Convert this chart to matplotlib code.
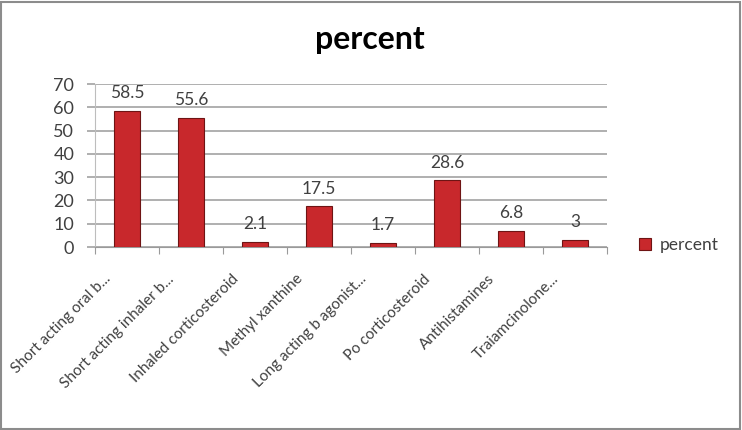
import matplotlib.pyplot as plt
import numpy as np
from matplotlib.patches import Rectangle

plt.rcParams['font.family'] = ['Lato', 'DejaVu Sans']

# data
drugs = ["Short acting oral b...", "Short acting inhaler b...", "Inhaled corticosteroid",
         "Methyl xanthine", "Long acting b agonist...", "Po corticosteroid",
         "Antihistamines", "Traiamcinolone..."]
percent = [58.5, 55.6, 2.1, 17.5, 1.7, 28.6, 6.8, 3]
labels = ["58.5", "55.6", "2.1", "17.5", "1.7", "28.6", "6.8", "3"]

fig = plt.figure(figsize=(7.42, 4.30), dpi=100)
ax = fig.add_axes([95/742, 1-247/430, (607-95)/742, (247-84)/430])

x = np.arange(len(drugs))
ax.bar(x, percent, width=0.4, color='#c8282c', edgecolor='#6e1414',
       linewidth=0.8, label='percent', zorder=3)

for xi, v, t in zip(x, percent, labels):
    ax.annotate(t, xy=(xi, v), xytext=(0, 7), textcoords='offset points',
                ha='center', va='bottom', fontsize=12.5, color='#404040')

ax.set_xlim(-0.5, len(drugs) - 0.5)
ax.set_ylim(0, 70)
ax.set_yticks(range(0, 71, 10))
ax.yaxis.grid(True, color='#9a9a9a', linewidth=1.1, zorder=0)
ax.tick_params(axis='y', length=6, color='#9a9a9a', width=1.1,
               labelsize=13, labelcolor='#404040', pad=9)

# category boundaries get the ticks, labels go under the bars
ax.set_xticks(np.arange(-0.5, len(drugs)))
ax.set_xticklabels([])
ax.tick_params(axis='x', length=5, color='#9a9a9a', direction='out')
for xi, name in zip(x, drugs):
    ax.annotate(name, xy=(xi, 0), xycoords=('data', 'axes fraction'),
                xytext=(-17, -18), textcoords='offset points',
                rotation=45, ha='right', va='top', rotation_mode='anchor',
                fontsize=11, color='#404040')

for s in ['top', 'right']:
    ax.spines[s].set_visible(False)
ax.spines['left'].set_color('#bdbdbd')
ax.spines['bottom'].set_color('#9a9a9a')

fig.text(370/742, 1-40/430, "percent", ha='center', va='center',
         fontsize=23, fontweight='bold', color='black')

fig.legend(loc='center left', bbox_to_anchor=(623/742, 1-245/430), frameon=False,
           fontsize=12.5, handlelength=0.7, handleheight=0.7, handletextpad=0.5,
           labelcolor='#404040')

fig.patches.append(Rectangle((0.002, 0.003), 0.995, 0.993, transform=fig.transFigure,
                             fill=False, edgecolor='#8c8c8c', linewidth=1.5))

fig.savefig('out.png', dpi=100)
